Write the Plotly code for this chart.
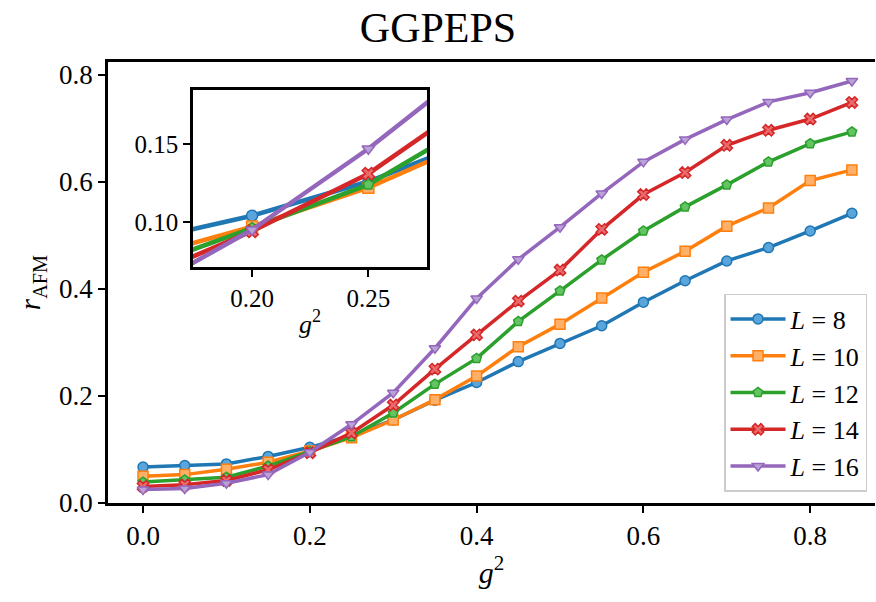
import plotly.graph_objects as go

g2 = [0.00, 0.05, 0.10, 0.15, 0.20, 0.25, 0.30, 0.35, 0.40, 0.45,
      0.50, 0.55, 0.60, 0.65, 0.70, 0.75, 0.80, 0.85]

r_L8 = [0.067, 0.070, 0.073, 0.087, 0.104, 0.126, 0.155, 0.192, 0.225, 0.264,
        0.298, 0.331, 0.375, 0.415, 0.452, 0.477, 0.508, 0.541]
r_L10 = [0.050, 0.053, 0.063, 0.076, 0.097, 0.122, 0.155, 0.193, 0.237, 0.292,
         0.334, 0.383, 0.431, 0.470, 0.517, 0.551, 0.602, 0.622]
r_L12 = [0.039, 0.043, 0.048, 0.069, 0.096, 0.124, 0.168, 0.222, 0.270, 0.339,
         0.396, 0.454, 0.508, 0.553, 0.594, 0.637, 0.671, 0.693]
r_L14 = [0.031, 0.034, 0.042, 0.062, 0.094, 0.131, 0.183, 0.250, 0.314, 0.377,
         0.435, 0.511, 0.576, 0.617, 0.668, 0.696, 0.717, 0.748]
r_L16 = [0.025, 0.027, 0.037, 0.053, 0.095, 0.147, 0.206, 0.289, 0.382, 0.455,
         0.515, 0.578, 0.637, 0.679, 0.716, 0.749, 0.766, 0.788]

labels = ["8", "10", "12", "14", "16"]
series = [r_L8, r_L10, r_L12, r_L14, r_L16]
colors = ["#1f77b4", "#ff7f0e", "#2ca02c", "#d62728", "#9467bd"]
faces = ["#5aa5dc", "#ffb066", "#62c462", "#e86a6b", "#b9a2d6"]
symbols = ["circle", "square", "pentagon", "x", "triangle-down"]

FONT = "Liberation Serif"

fig = go.Figure()
for lab, ys, c, fc, s in zip(labels, series, colors, faces, symbols):
    fig.add_trace(go.Scatter(
        x=g2, y=ys, mode="lines+markers", name=f"<i>L</i> = {lab}",
        line=dict(color=c, width=3.5),
        marker=dict(symbol=s, size=10, color=fc, line=dict(color=c, width=1.5)),
        xaxis="x", yaxis="y"))
for lab, ys, c, fc, s in zip(labels, series, colors, faces, symbols):
    fig.add_trace(go.Scatter(
        x=g2, y=ys, mode="lines+markers", showlegend=False,
        line=dict(color=c, width=4.5),
        marker=dict(symbol=s, size=11, color=fc, line=dict(color=c, width=1.5)),
        xaxis="x2", yaxis="y2", cliponaxis=True))

axis_common = dict(showgrid=False, zeroline=False, showline=True, linecolor="black",
                   linewidth=2.5, ticks="outside", ticklen=7, tickwidth=2,
                   tickcolor="black")

fig.update_layout(
    width=876, height=602,
    margin=dict(l=108, r=1, t=62, b=99),
    plot_bgcolor="white", paper_bgcolor="white",
    font=dict(family=FONT, size=26, color="black"),
    title=dict(text="GGPEPS", x=0.5, xanchor="center", xref="container",
               y=0.955, yanchor="middle", yref="container",
               font=dict(size=42, family=FONT)),
    xaxis=dict(range=[-0.042, 0.8777], tickvals=[0, 0.2, 0.4, 0.6, 0.8],
               ticktext=["0.0", "0.2", "0.4", "0.6", "0.8"], mirror=True,
               tickfont=dict(size=27),
               title=dict(text="<i>g</i><sup>2</sup>", standoff=12,
                          font=dict(size=30)),
               **axis_common),
    yaxis=dict(range=[0, 0.8235], tickvals=[0, 0.2, 0.4, 0.6, 0.8],
               ticktext=["0.0", "0.2", "0.4", "0.6", "0.8"], mirror=False,
               tickfont=dict(size=27),
               title=dict(text="<i>r</i><sub>AFM</sub>", standoff=10,
                          font=dict(size=29)),
               **axis_common),
    xaxis2=dict(domain=[0.1108, 0.4159], anchor="y2", range=[0.1746, 0.2752],
                tickvals=[0.20, 0.25], ticktext=["0.20", "0.25"], mirror=True,
                tickfont=dict(size=25),
                title=dict(text="<i>g</i><sup>2</sup>", standoff=4,
                           font=dict(size=26)),
                **axis_common),
    yaxis2=dict(domain=[0.535, 0.9365], anchor="x2", range=[0.071, 0.1848],
                tickvals=[0.10, 0.15], ticktext=["0.10", "0.15"], mirror=True,
                tickfont=dict(size=25),
                **axis_common),
    legend=dict(x=0.9896, y=0.025, xanchor="right", yanchor="bottom",
                bgcolor="rgba(255,255,255,0.9)", bordercolor="#cccccc",
                borderwidth=1.5, font=dict(size=26, family=FONT),
                itemwidth=55, tracegroupgap=0),
    showlegend=True,
)

fig.write_html("out.html")
